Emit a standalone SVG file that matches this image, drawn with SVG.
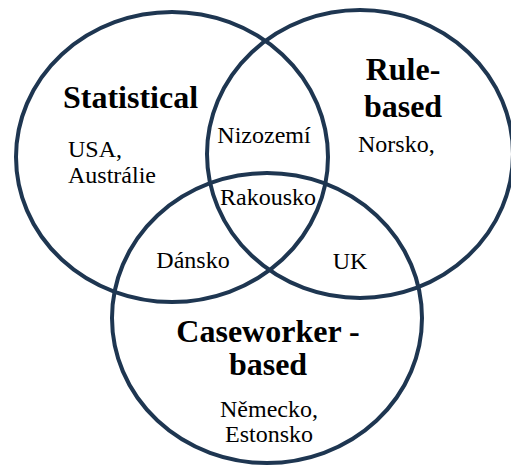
<svg xmlns="http://www.w3.org/2000/svg" width="511" height="465" viewBox="0 0 511 465">
<style>
.set{fill:none;stroke:#1e3651;stroke-width:4}
.title{font-family:"Liberation Serif","Times New Roman",serif;font-weight:bold;font-size:32px;fill:#000}
.item{font-family:"Liberation Serif","Times New Roman",serif;font-size:24px;fill:#000}
</style>
<rect width="511" height="465" fill="#fff"/>
<g id="statistical">
<ellipse class="set" cx="172" cy="157" rx="156" ry="145"/>
<text class="title" x="63" y="108">Statistical</text>
<text class="item" x="68" y="157">USA,</text>
<text class="item" x="68" y="183">Austrálie</text>
</g>
<g id="rule-based">
<ellipse class="set" cx="360" cy="154" rx="153" ry="144"/>
<text class="title" x="403" y="80" text-anchor="middle">Rule-</text>
<text class="title" x="403" y="117" text-anchor="middle">based</text>
<text class="item" x="358" y="152">Norsko,</text>
</g>
<g id="caseworker-based">
<ellipse class="set" cx="267" cy="318" rx="155" ry="145"/>
<text class="title" x="268" y="342" text-anchor="middle">Caseworker -</text>
<text class="title" x="268" y="375" text-anchor="middle">based</text>
<text class="item" x="269" y="417" text-anchor="middle">Německo,</text>
<text class="item" x="269" y="442" text-anchor="middle">Estonsko</text>
</g>
<g id="overlaps">
<text class="item" x="264" y="143" text-anchor="middle">Nizozemí</text>
<text class="item" x="268" y="205" text-anchor="middle">Rakousko</text>
<text class="item" x="193" y="268" text-anchor="middle">Dánsko</text>
<text class="item" x="350" y="269" text-anchor="middle">UK</text>
</g>
<g id="connectors"/>
</svg>
